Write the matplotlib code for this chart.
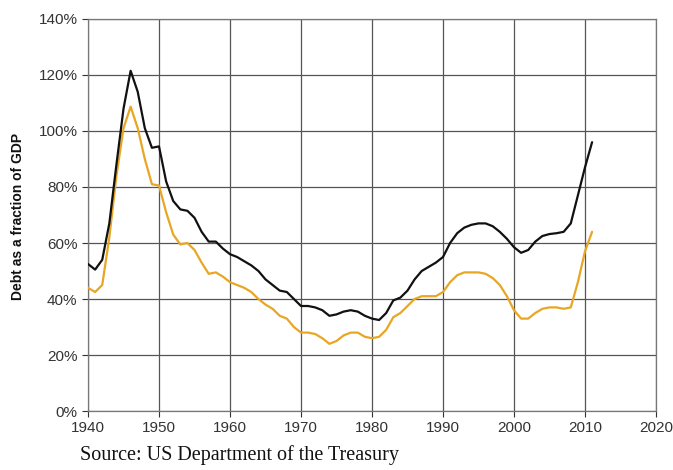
import matplotlib
matplotlib.use("Agg")
import matplotlib.pyplot as plt
from matplotlib.ticker import FuncFormatter

years = list(range(1940, 2012))
gross_debt = [52.5, 50.5, 54, 67, 88, 108, 121.5, 114, 101, 94,
              94.5, 82, 75, 72, 71.5, 69, 64, 60.5, 60.5, 58,
              56, 55, 53.5, 52, 50, 47, 45, 43, 42.5, 40,
              37.5, 37.5, 37, 36, 34, 34.5, 35.5, 36, 35.5, 34,
              33, 32.5, 35, 39.5, 40.5, 43, 47, 50, 51.5, 53,
              55, 60, 63.5, 65.5, 66.5, 67, 67, 66, 64, 61.5,
              58.5, 56.5, 57.5, 60.5, 62.5, 63.2, 63.5, 64, 67, 77,
              87, 96]
public_debt = [44, 42.5, 45, 62, 84, 101, 108.7, 101, 90, 81,
               80.5, 71, 63, 59.5, 60, 57.5, 53, 49, 49.5, 48,
               46, 45, 44, 42.5, 40, 38, 36.5, 34, 33, 30,
               28, 28, 27.5, 26, 24, 25, 27, 28, 28, 26.5,
               26, 26.5, 29, 33.5, 35, 37.5, 40, 41, 41, 41,
               42.5, 46, 48.5, 49.5, 49.5, 49.5, 49, 47.5, 45, 41,
               36, 33, 33, 35, 36.5, 37, 37, 36.5, 37, 46,
               57, 64]
x_ticks = list(range(1940, 2021, 10))
y_ticks = list(range(0, 141, 20))

fig = plt.figure(figsize=(6.73, 4.70), dpi=100)
ax = fig.add_axes([0.1308, 0.1255, 0.8439, 0.8341])

ax.plot(years, public_debt, color="#e8a623", lw=1.6, zorder=3,
        solid_joinstyle="round", solid_capstyle="round")
ax.plot(years, gross_debt, color="#111111", lw=1.6, zorder=4,
        solid_joinstyle="round", solid_capstyle="round")

ax.set_xlim(1940, 2020)
ax.set_ylim(0, 140)
ax.set_xticks(x_ticks)
ax.set_yticks(y_ticks)
ax.yaxis.set_major_formatter(FuncFormatter(lambda v, p: f"{int(v)}%"))
ax.grid(True, color="#555555", lw=0.9)
ax.set_axisbelow(True)
for s in ax.spines.values():
    s.set_color("#777777")
    s.set_linewidth(0.9)
ax.tick_params(axis="both", labelsize=11, colors="#333333", length=4, width=0.8,
               labelcolor="#333333")
for lab in ax.get_xticklabels() + ax.get_yticklabels():
    lab.set_family("Liberation Sans")

fig.text(0.027, 0.54, "Debt as a fraction of GDP", rotation=90, ha="center", va="center",
         fontsize=10, fontweight="bold", family="Liberation Sans", color="#111111")
fig.text(0.119, 0.01, "Source: US Department of the Treasury", ha="left", va="bottom",
         fontsize=14.5, family="Liberation Serif", color="#111111")

fig.savefig("out.png", dpi=100)
